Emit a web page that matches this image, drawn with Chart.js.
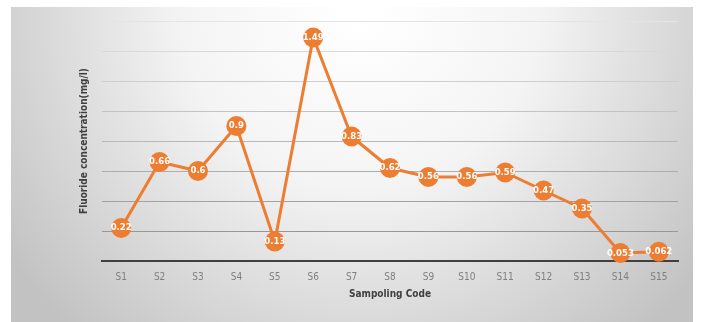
<!DOCTYPE html>
<html>
<head>
<meta charset="utf-8">
<script src="https://cdn.jsdelivr.net/npm/chart.js@4/dist/chart.umd.min.js"></script>
<style>
  html, body { margin: 0; padding: 0; background: #ffffff; }
  #wrap { width: 701px; height: 322px; position: relative; }
</style>
</head>
<body>
<div id="wrap"><canvas id="c" width="701" height="322"></canvas></div>
<script>
// Sampling sites and measured fluoride levels (mg/l)
const sites = ['S1','S2','S3','S4','S5','S6','S7','S8','S9','S10','S11','S12','S13','S14','S15'];
const fluoride = [0.22, 0.66, 0.6, 0.9, 0.13, 1.49, 0.83, 0.62, 0.56, 0.56, 0.59, 0.47, 0.35, 0.053, 0.062];
const valueLabels = ['0.22','0.66','0.6','0.9','0.13','1.49','0.83','0.62','0.56','0.56','0.59','0.47','0.35','0.053','0.062'];

const narrow = "'Liberation Sans Narrow', 'DejaVu Sans Condensed', 'Roboto', sans-serif";
const orange = '#ED7D31';

// Soft grey panel with a bright spot near the top centre
const panelBackground = {
  id: 'panelBackground',
  beforeDraw(chart) {
    const ctx = chart.ctx;
    ctx.save();
    ctx.fillStyle = '#ffffff';
    ctx.fillRect(0, 0, chart.width, chart.height);
    const x0 = 11, y0 = 7, x1 = 693, y1 = 322;
    const g = ctx.createRadialGradient(360, 10, 10, 360, 10, 430);
    g.addColorStop(0, '#ffffff');
    g.addColorStop(0.4, '#f4f4f4');
    g.addColorStop(1, '#c2c2c2');
    ctx.fillStyle = g;
    ctx.fillRect(x0, y0, x1 - x0, y1 - y0);
    ctx.restore();
  }
};

// White value text inside each marker
const pointValues = {
  id: 'pointValues',
  afterDatasetsDraw(chart) {
    const ctx = chart.ctx;
    const meta = chart.getDatasetMeta(0);
    ctx.save();
    ctx.fillStyle = '#ffffff';
    ctx.font = "bold 9.5px " + narrow;
    ctx.textAlign = 'center';
    ctx.textBaseline = 'middle';
    meta.data.forEach((pt, i) => {
      ctx.fillText(valueLabels[i], pt.x, pt.y);
    });
    ctx.restore();
  }
};

// Gridlines fade from mid grey at the bottom to almost white at the top
function gridShade(context) {
  const v = context.tick ? context.tick.value : 0;
  const t = Math.min(Math.max(v / 1.6, 0), 1);
  const c = Math.round(140 + (228 - 140) * t);
  return 'rgb(' + c + ',' + c + ',' + c + ')';
}

new Chart(document.getElementById('c'), {
  type: 'line',
  data: {
    labels: sites,
    datasets: [{
      data: fluoride,
      borderColor: orange,
      backgroundColor: orange,
      borderWidth: 3,
      pointRadius: 10,
      pointBackgroundColor: orange,
      pointBorderColor: orange,
      pointBorderWidth: 0,
      tension: 0,
      clip: false
    }]
  },
  options: {
    responsive: false,
    animation: false,
    devicePixelRatio: 1,
    layout: { padding: { left: 78, right: 23, top: 21, bottom: 22 } },
    plugins: {
      legend: { display: false },
      tooltip: { enabled: false }
    },
    scales: {
      x: {
        offset: true,
        grid: { display: false, drawTicks: false },
        border: { display: true, color: '#404040', width: 2 },
        ticks: { color: '#7f7f7f', font: { family: narrow, size: 10 }, padding: 10 },
        title: {
          display: true, text: 'Sampoling Code', color: '#404040',
          font: { family: narrow, size: 10, weight: 'bold' }, padding: { top: -5, bottom: 0 }
        }
      },
      y: {
        min: 0, max: 1.6,
        ticks: { display: false, stepSize: 0.2 },
        grid: { color: gridShade, lineWidth: 1, drawTicks: false },
        border: { display: false },
        title: {
          display: true, text: 'Fluoride concentration(mg/l)', color: '#404040',
          font: { family: narrow, size: 10, weight: 'bold' }, padding: { top: 0, bottom: 12 }
        }
      }
    }
  },
  plugins: [panelBackground, pointValues]
});
</script>
</body>
</html>
